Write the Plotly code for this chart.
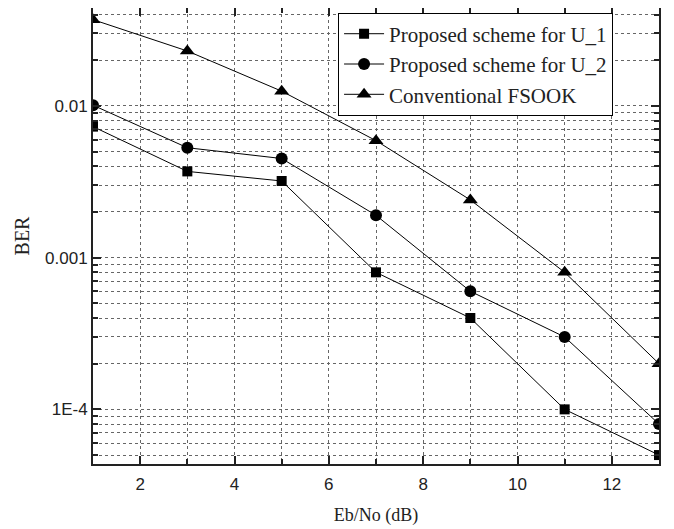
import plotly.graph_objects as go

ebno = [1, 3, 5, 7, 9, 11, 13]
ber_u1 = [0.0073, 0.0037, 0.0032, 0.0008, 0.0004, 0.0001, 0.00005]
ber_u2 = [0.0101, 0.0053, 0.0045, 0.0019, 0.0006, 0.0003, 0.00008]
ber_fsook = [0.037, 0.023, 0.0125, 0.0059, 0.0024, 0.0008, 0.0002]

names = ["Proposed scheme for U_1", "Proposed scheme for U_2", "Conventional FSOOK"]
symbols = ["square", "circle", "triangle-up"]
sizes = [10, 12, 13]

y_tickvals = [1e-4, 1e-3, 1e-2]
y_ticktext = ["1E-4", "0.001", "0.01"]
x_tickvals = [2, 4, 6, 8, 10, 12]

fig = go.Figure()
for ys, nm, sym, sz in zip([ber_u1, ber_u2, ber_fsook], names, symbols, sizes):
    fig.add_trace(go.Scatter(
        x=ebno, y=ys, name=nm, mode="lines+markers",
        line=dict(color="black", width=1),
        marker=dict(symbol=sym, size=sz, color="black"),
        cliponaxis=True,
    ))

grid_col = "#666666"
fig.update_layout(
    width=674, height=529,
    margin=dict(l=85, r=23, t=0, b=73),
    plot_bgcolor="white", paper_bgcolor="white",
    showlegend=True,
    legend=dict(
        x=0.433, y=0.99, xanchor="left", yanchor="top",
        bordercolor="black", borderwidth=1, bgcolor="white",
        font=dict(family="Liberation Serif", size=21, color="#222"),
        tracegroupgap=0, itemwidth=40,
    ),
    xaxis=dict(
        range=[1, 13], tickvals=x_tickvals, automargin=False,
        ticks="inside", ticklen=8, tickwidth=2, tickcolor="#222",
        showline=True, linecolor="#222", linewidth=2, mirror="allticks",
        showgrid=True, gridcolor=grid_col, griddash="dot", gridwidth=1,
        minor=dict(dtick=1, ticks="inside", ticklen=5, tickwidth=1.5, tickcolor="#222",
                   showgrid=True, gridcolor=grid_col, griddash="dot", gridwidth=1),
        tickfont=dict(family="Liberation Sans", size=17, color="#222"),
        ticklabelstandoff=4,
        title=dict(text="Eb/No (dB)", font=dict(family="Liberation Serif", size=18, color="#222"), standoff=15),
        zeroline=False,
    ),
    yaxis=dict(
        type="log", range=[-4.36, -1.355], automargin=False,
        tickvals=y_tickvals, ticktext=y_ticktext,
        ticks="inside", ticklen=8, tickwidth=2, tickcolor="#222",
        showline=True, linecolor="#222", linewidth=2, mirror="allticks",
        showgrid=True, gridcolor=grid_col, griddash="dot", gridwidth=1,
        minor=dict(dtick="D1", ticks="inside", ticklen=5, tickwidth=1.5, tickcolor="#222",
                   showgrid=True, gridcolor=grid_col, griddash="dot", gridwidth=1),
        tickfont=dict(family="Liberation Sans", size=17, color="#222"),
        title=dict(text="BER", font=dict(family="Liberation Serif", size=20, color="#222"), standoff=10),
        zeroline=False,
    ),
)

fig.write_html("out.html")
